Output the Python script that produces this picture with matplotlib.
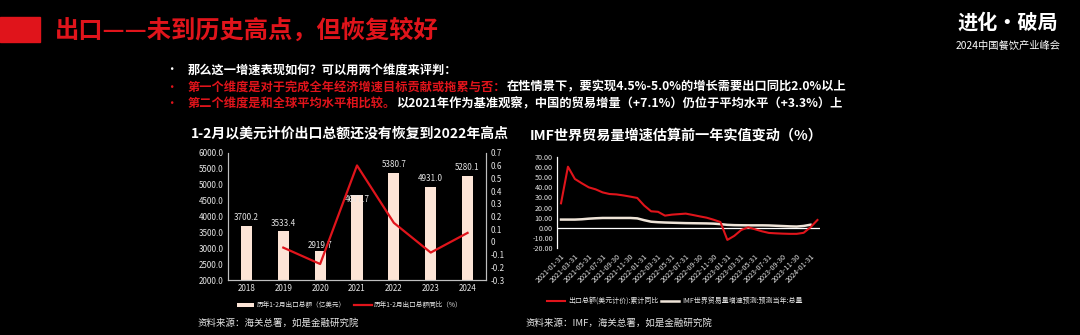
import numpy as np
import matplotlib
matplotlib.use('Agg')
import matplotlib.pyplot as plt
from matplotlib.patches import Patch, Rectangle
from matplotlib.lines import Line2D

plt.rcParams['font.family'] = ['Noto Sans CJK SC', 'DejaVu Sans']
plt.rcParams['axes.unicode_minus'] = False

# left chart: Jan-Feb exports
years = ['2018', '2019', '2020', '2021', '2022', '2023', '2024']
export_total = [3700.2, 3533.4, 2919.7, 4677.7, 5380.7, 4931.0, 5280.1]
export_growth = [np.nan, -0.045, -0.174, 0.602, 0.150, -0.084, 0.071]

# right chart: monthly, 2021-01 .. 2024-02
export_yoy = [24.2, 60.4, 48.3, 44.0, 40.0, 38.0, 35.0, 33.4, 33.0, 32.0, 30.8, 29.5,
              22.0, 16.3, 15.8, 12.0, 13.0, 13.5, 14.0, 12.7, 11.3, 10.0, 8.0, 5.7,
              -12.0, -8.0, -2.2, 0.5, -1.5, -3.5, -5.1, -5.5, -5.8, -6.0, -6.0, -5.0,
              0.5, 7.7]
imf_forecast = [8.1, 8.1, 8.1, 8.4, 9.0, 9.4, 9.7, 9.7, 9.7, 9.7, 9.7, 9.3,
                7.5, 6.0, 5.5, 5.2, 5.0, 4.8, 4.6, 4.5, 4.4, 4.3, 4.1, 3.6,
                2.9, 2.6, 2.5, 2.4, 2.4, 2.4, 2.3, 2.0, 1.7, 1.4, 1.2, 1.8,
                3.0, np.nan]
month_ticks = ['2021-01-31', '2021-03-31', '2021-05-31', '2021-07-31', '2021-09-30',
               '2021-11-30', '2022-01-31', '2022-03-31', '2022-05-31', '2022-07-31',
               '2022-09-30', '2022-11-30', '2023-01-31', '2023-03-31', '2023-05-31',
               '2023-07-31', '2023-09-30', '2023-11-30', '2024-01-31']

W, H = 1080, 335
BG = 'black'
RED = '#E0141B'
TXT = '#E6E6E6'
PEACH = '#FCE4D6'
CREAM = '#EFE4D8'

fig = plt.figure(figsize=(W / 100, H / 100), dpi=100, facecolor=BG)

def fx(x):
  return x / W

def fy(y):
  return 1 - y / H

# header
fig.patches.append(Rectangle((0, fy(42)), fx(40), 25 / H, transform=fig.transFigure,
                             color=RED, zorder=0))
fig.text(fx(55), fy(30), '出口——未到历史高点，但恢复较好', color=RED, fontsize=17.5,
         fontweight='bold', va='center', ha='left')
fig.text(fx(1008), fy(22), '进化·破局', color='white', fontsize=14.5, fontweight='bold',
         va='center', ha='center')
fig.text(fx(1008), fy(46), '2024中国餐饮产业峰会', color='white', fontsize=7.4,
         va='center', ha='center')

# bullet lines
renderer = fig.canvas.get_renderer()
bullets = [
  [('那么这一增速表现如何？可以用两个维度来评判：', 'white')],
  [('第一个维度是对于完成全年经济增速目标贡献或拖累与否：', RED),
   ('在性情景下，要实现4.5%-5.0%的增长需要出口同比2.0%以上', 'white')],
  [('第二个维度是和全球平均水平相比较。', RED),
   ('以2021年作为基准观察，中国的贸易增量（+7.1%）仍位于平均水平（+3.3%）上', 'white')],
]
for i, parts in enumerate(bullets):
  yy = fy(70 + 17 * i)
  fig.text(fx(171), yy, '•', color='white' if i == 0 else RED, fontsize=9,
           va='center', ha='center')
  x0 = fx(188)
  for s, c in parts:
    t = fig.text(x0, yy, s, color=c, fontsize=8.8, fontweight='bold', va='center', ha='left')
    bb = t.get_window_extent(renderer)
    x0 = bb.x1 / W

# left chart
ax = fig.add_axes([fx(228), fy(280), fx(486) - fx(228), (280 - 153) / H])
ax.set_facecolor(BG)
xpos = np.arange(len(years))
bars = ax.bar(xpos, export_total, width=0.3, color=PEACH, zorder=2)
ax.set_xlim(-0.5, len(years) - 0.5)
ax.set_ylim(2000, 6000)
ax.set_yticks(np.arange(2000, 6001, 500))
ax.set_yticklabels(['%.1f' % v for v in np.arange(2000, 6001, 500)])
ax.set_xticks(xpos)
ax.set_xticklabels(years)
label_offsets = [5.8, 5.8, 3.6, -3.6, 5.8, 5.8, 5.8]
for xi, v, off in zip(xpos, export_total, label_offsets):
  ax.annotate('%.1f' % v, (xi, v), xytext=(0, off), textcoords='offset points',
              ha='center', va='center', color=TXT, fontsize=5.8, zorder=4)

ax2 = ax.twinx()
ax2.plot(xpos, export_growth, color=RED, linewidth=1.6, zorder=3)
ax2.set_ylim(-0.3, 0.7)
ax2.set_yticks(np.round(np.arange(-0.3, 0.71, 0.1), 1))
ax2.set_yticklabels(['%g' % v for v in np.round(np.arange(-0.3, 0.71, 0.1), 1)])

for a in (ax, ax2):
  a.tick_params(colors=TXT, labelsize=5.8, length=0, pad=3)
  a.spines['top'].set_visible(False)
  for sp in ('left', 'right', 'bottom'):
    a.spines[sp].set_color('#BFBFBF')
    a.spines[sp].set_linewidth(0.8)

handles = [Patch(facecolor=PEACH, edgecolor='none'), Line2D([], [], color=RED, linewidth=1.6)]
labels = ['历年1-2月出口总额（亿美元）', '历年1-2月出口总额同比（%）']
fig.legend(handles, labels, loc='center', bbox_to_anchor=(fx(350), fy(305)), ncol=2,
           frameon=False, fontsize=4.8, labelcolor=TXT, handlelength=2.6,
           handleheight=0.5, columnspacing=1.2, handletextpad=0.4)

fig.text(fx(350), fy(134), '1-2月以美元计价出口总额还没有恢复到2022年高点', color='white',
         fontsize=10, fontweight='bold', va='center', ha='center')
fig.text(fx(198), fy(323), '资料来源：海关总署，如是金融研究院', color=TXT, fontsize=6.8,
         va='center', ha='left')

# right chart
bx = fig.add_axes([fx(557), fy(248), fx(820) - fx(557), (248 - 157) / H])
bx.set_facecolor(BG)
months = np.arange(len(export_yoy))
bx.plot(months, export_yoy, color=RED, linewidth=1.5, zorder=3, label='出口总额(美元计价):累计同比')
bx.plot(months, imf_forecast, color=CREAM, linewidth=1.8, zorder=2,
        label='IMF世界贸易量增速预测:预测当年:总量')
bx.axhline(0, color='white', linewidth=0.9, zorder=1)
bx.set_xlim(-0.58, 37.37)
bx.set_ylim(-20, 70)
bx.set_yticks(np.arange(-20, 71, 10))
bx.set_yticklabels(['%.2f' % v for v in np.arange(-20, 71, 10)])
bx.set_xticks(np.arange(0, len(month_ticks) * 2, 2))
bx.set_xticklabels(month_ticks, rotation=45, ha='right', rotation_mode='anchor')
bx.tick_params(colors=TXT, labelsize=5.2, length=0, pad=3)
for sp in ('top', 'right', 'bottom'):
  bx.spines[sp].set_visible(False)
bx.spines['left'].set_color('white')
bx.spines['left'].set_linewidth(0.9)
bx.legend(loc='center', bbox_to_anchor=(fx(675), fy(301)), bbox_transform=fig.transFigure,
          ncol=2, frameon=False, fontsize=5.0, labelcolor=TXT, handlelength=2.6,
          columnspacing=0.4, handletextpad=0.4)

fig.text(fx(676), fy(136), 'IMF世界贸易量增速估算前一年实值变动（%）', color='white',
         fontsize=10.2, fontweight='bold', va='center', ha='center')
fig.text(fx(525), fy(323), '资料来源：IMF，海关总署，如是金融研究院', color=TXT, fontsize=6.8,
         va='center', ha='left')

fig.savefig('out.png', dpi=100, facecolor=BG)
